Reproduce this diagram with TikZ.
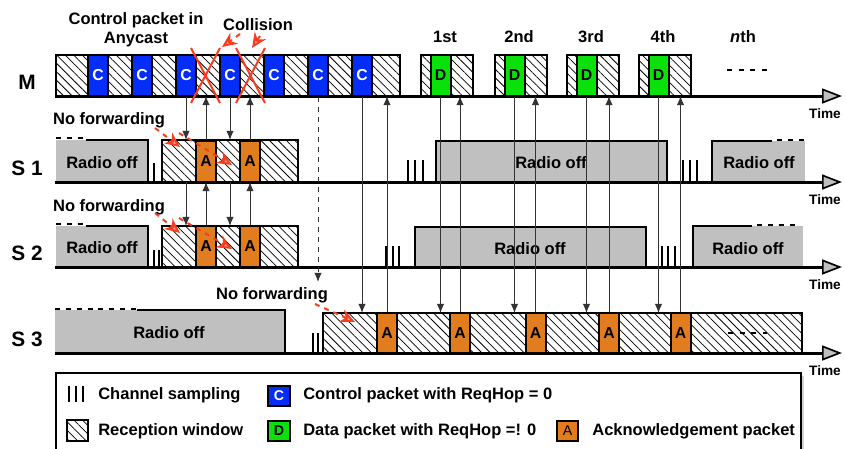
\documentclass[tikz,border=0pt]{standalone}
\usepackage{fontspec}
\setmainfont{Liberation Sans}
\usetikzlibrary{arrows.meta,patterns.meta,shadows}

\definecolor{ctrlblue}{RGB}{5,45,250}
\definecolor{datagreen}{RGB}{10,225,10}
\definecolor{ackorange}{RGB}{225,125,30}
\definecolor{offgray}{RGB}{192,192,192}
\definecolor{fwdred}{RGB}{250,60,30}

\tikzset{
	lbl/.style={font=\fontsize{9.9}{11.5}\selectfont\bfseries},
	rowname/.style={font=\fontsize{12.5}{14}\selectfont\bfseries},
	timelbl/.style={font=\fontsize{8.2}{10}\selectfont\bfseries},
	leg/.style={lbl,anchor=west,inner sep=0pt},
	hatchbox/.style={draw,line width=1.2pt,pattern={Lines[angle=-45,distance=3.6pt,line width=.45pt]}},
	pkt/.style={draw,line width=1.2pt,inner sep=0pt,minimum width=12pt,minimum height=24.6pt,font=\fontsize{9.5}{10}\selectfont\bfseries},
	ctrlpkt/.style={pkt,fill=ctrlblue,text=white},
	datapkt/.style={pkt,fill=datagreen},
	ackpkt/.style={pkt,fill=ackorange},
	legpkt/.style={pkt,minimum width=13pt,minimum height=12pt,font=\fontsize{8.5}{9}\selectfont},
	offedge/.style={line width=1.2pt},
	dots/.style={line width=1.2pt,dash pattern=on 3pt off 3.5pt},
	tick/.style={line width=1.2pt},
	timeline/.style={line width=1.8pt,-{Triangle[length=12pt,width=9pt,fill=gray!50,line width=1pt]}},
	sig/.style={draw=black!80,line width=.6pt,-{Latex[length=5.5pt,width=4.5pt]}},
	nofwd/.style={draw=fwdred,dashed,line width=1.2pt,-{Stealth[length=9pt,width=8pt,fill=fwdred!45]}},
	cross/.style={draw=fwdred,line width=1.2pt}
}

\begin{document}
\begin{tikzpicture}[x=0.6pt,y=-0.6pt]
	\useasboundingbox (0,0) rectangle (846,448);
	\coordinate (mbase) at (0,96);
	\coordinate (s1top) at (0,140);
	\coordinate (s1base) at (0,182);
	\coordinate (s2top) at (0,226);
	\coordinate (s3wake) at (0,282);
	\coordinate (s3top) at (0,313);

	% M
	\draw[hatchbox] (56,55) rectangle (400,96);
	\foreach \i in {0,...,6}
		\node[ctrlpkt] (c\i) at (98+44*\i,75.5) {C};
	\foreach \x/\n/\t in {421/1/1st,495/2/2nd,567/3/3rd,639/4/4th}{
		\draw[hatchbox] (\x,55) rectangle (\x+52,96);
		\node[datapkt] (d\n) at (\x+19.5,75.5) {D};
		\node[lbl] (round\n) at (\x+24,37) {\t};
	}
	\node[lbl] (roundn) at (743,37) {\textit{n}th};
	\draw[dots,dash pattern=on 3pt off 4pt] (727,70) -- (767,70);

	% S 1
	\fill[offgray] (56,140) rectangle (148,182);
	\draw[offedge] (86,140) -- (148,140) -- (148,182);
	\draw[dots] (56,138) -- (86,138);
	\node[lbl] (offa) at (102,163) {Radio off};
	\draw[tick] (154,163) -- (154,182);
	\draw[hatchbox] (162,140) rectangle (298,182);
	\node[ackpkt] (sa1) at (206,161) {A};
	\node[ackpkt] (sa2) at (250,161) {A};
	\foreach \x in {408,415,423,683,690,697}
		\draw[tick] (\x,160) -- (\x,182);
	\fill[offgray] (436,141) rectangle (667,182);
	\draw[offedge] (436,182) -- (436,141) -- (667,141) -- (667,182);
	\node[lbl] (offb) at (551,163) {Radio off};
	\fill[offgray] (712,141) rectangle (805,182);
	\draw[offedge] (712,182) -- (712,141) -- (772,141);
	\draw[dots] (777,140) -- (805,140);
	\node[lbl] (offc) at (759,163) {Radio off};

	% S 2
	\fill[offgray] (56,226) rectangle (148,267);
	\draw[offedge] (86,226) -- (148,226) -- (148,267);
	\draw[dots] (56,224) -- (86,224);
	\node[lbl] (offd) at (102,248) {Radio off};
	\foreach \x in {154,159}
		\draw[tick] (\x,250) -- (\x,267);
	\draw[hatchbox] (162,226) rectangle (298,267);
	\node[ackpkt] (sb1) at (206,246.5) {A};
	\node[ackpkt] (sb2) at (250,246.5) {A};
	\foreach \x in {386,393,399,662,668,675}
		\draw[tick] (\x,246) -- (\x,267);
	\fill[offgray] (415,227) rectangle (646,267);
	\draw[offedge] (415,267) -- (415,227) -- (646,227) -- (646,267);
	\node[lbl] (offe) at (530,249) {Radio off};
	\fill[offgray] (693,226) rectangle (803,267);
	\draw[offedge] (693,267) -- (693,226) -- (752,226);
	\draw[dots] (757,225) -- (800,225);
	\node[lbl] (offf) at (748,249) {Radio off};

	% S 3
	\fill[offgray] (55,310) rectangle (285,353);
	\draw[offedge] (137,310) -- (285,310) -- (285,353);
	\draw[dots] (55,309) -- (137,309);
	\node[lbl] (offg) at (169,333) {Radio off};
	\foreach \x in {313,318}
		\draw[tick] (\x,333) -- (\x,353);
	\draw[hatchbox] (323,313) rectangle (802,353);
	\foreach \x [count=\n] in {387,460,535.5,609,680.5}
		\node[ackpkt] (ack\n) at (\x,333) {A};
	\draw[dots,dash pattern=on 3pt off 4pt] (728,333) -- (767,333);

	% time axes
	\foreach \y/\r/\s in {96/M/M,182/S 1/s1,267/S 2/s2,353/S 3/s3}{
		\draw[timeline] (55,\y) -- (842,\y);
		\node[timelbl] (time\s) at (825,\y+18) {Time};
		\node[rowname] (row\s) at (27,\y-14) {\r};
	}

	% signalling
	\draw[sig] (c2.south) -- (c2.south |- s1top);
	\draw[sig] (c3.south) -- (c3.south |- s1top);
	\draw[sig] (c2.south |- s1base) -- (c2.south |- s2top);
	\draw[sig] (c3.south |- s1base) -- (c3.south |- s2top);
	\draw[sig] (sa1.north) -- (sa1.north |- mbase);
	\draw[sig] (sa2.north) -- (sa2.north |- mbase);
	\draw[sig] (sb1.north) -- (sb1.north |- s1base);
	\draw[sig] (sb2.north) -- (sb2.north |- s1base);
	\draw[sig,dashed] (c5.south) -- (c5.south |- s3wake);
	\draw[sig] (c6.south) -- (c6.south |- s3top);
	\foreach \n in {1,...,4}
		\draw[sig] (d\n.south) -- (d\n.south |- s3top);
	\foreach \n in {1,...,5}
		\draw[sig] (ack\n.north) -- (ack\n.north |- mbase);

	% collision
	\draw[cross] (191,48) -- (220,103) (220,48) -- (191,103);
	\draw[cross] (236,48) -- (265,103) (265,48) -- (236,103);
	\node[lbl,align=center] (anycast) at (136,30) {Control packet in\\Anycast};
	\node[lbl] (collision) at (258,25) {Collision};
	\draw[nofwd] (240,34) -- (222,47);
	\draw[nofwd] (260,36) -- (252,48);

	% no forwarding
	\node[lbl] (nfa) at (109,120) {No forwarding};
	\draw[nofwd] (155,128) -- (180,147);
	\draw[nofwd] (179,133) -- (232,165);
	\node[lbl] (nfb) at (109,207) {No forwarding};
	\draw[nofwd] (155,213) -- (180,233);
	\draw[nofwd] (179,218) -- (232,249);
	\node[lbl] (nfc) at (272,295) {No forwarding};
	\draw[nofwd] (315,304) -- (355,322);

	% legend
	\draw[line width=.8pt,fill=white,drop shadow={opacity=.35,shadow xshift=2pt,shadow yshift=-2pt}] (56,373) rectangle (801,470);
	\foreach \x in {69,76,83}
		\draw[tick] (\x,386) -- (\x,402);
	\node[leg] (legsamp) at (98,395) {Channel sampling};
	\node[legpkt,fill=ctrlblue,text=white,font=\fontsize{8.5}{9}\selectfont\bfseries] (legc) at (279,395.5) {C};
	\node[leg] (legctrl) at (303,395) {Control packet with ReqHop = 0};
	\draw[hatchbox,line width=.9pt] (67,420) rectangle (88,441);
	\node[leg] (legwin) at (98,431) {Reception window};
	\node[legpkt,fill=datagreen,font=\fontsize{8.5}{9}\selectfont\bfseries] (legd) at (279,430.5) {D};
	\node[leg] (legdata) at (303,431) {Data packet with ReqHop =! 0};
	\node[legpkt,fill=ackorange] (lega) at (567.5,430.5) {A};
	\node[leg] (legack) at (592,431) {Acknowledgement packet};
\end{tikzpicture}
\end{document}
